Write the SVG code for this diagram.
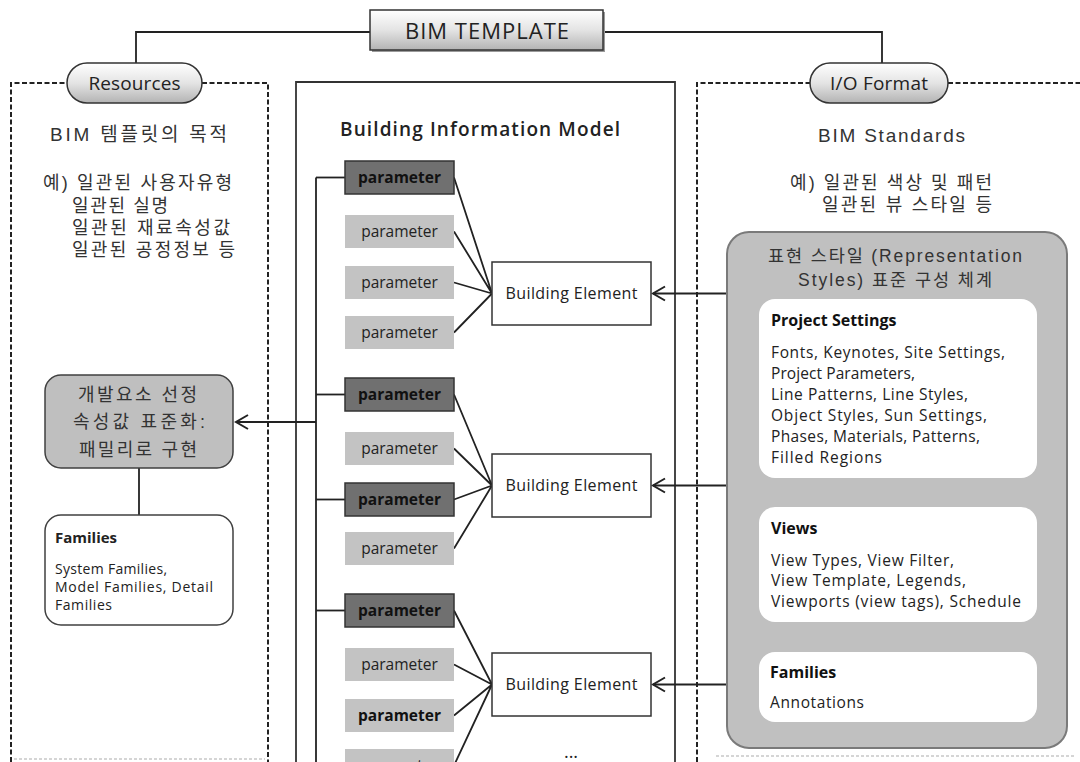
<svg xmlns="http://www.w3.org/2000/svg" width="1080" height="762" viewBox="0 0 1080 762">
<defs>
<linearGradient id="gBtn" x1="0" y1="0" x2="0" y2="1">
<stop offset="0" stop-color="#ffffff"/>
<stop offset="0.5" stop-color="#e4e4e4"/>
<stop offset="1" stop-color="#b3b3b3"/>
</linearGradient>
<marker id="arr" markerUnits="userSpaceOnUse" markerWidth="16" markerHeight="18" refX="13" refY="8" orient="auto" overflow="visible">
<path d="M1,1 L13,8 L1,15" fill="none" stroke="#222" stroke-width="2"/>
</marker>
<style>
.kr{font-family:"Liberation Sans","Noto Sans CJK KR",sans-serif;fill:#333}
.ui{font-family:"Open Sans","Noto Sans","Noto Sans CJK KR",sans-serif;fill:#222}
.ln{fill:none;stroke:#222;stroke-width:1.8}
.dash{fill:none;stroke:#222;stroke-width:2;stroke-dasharray:5 2.5}
.faint{fill:none;stroke:#c8c8c8;stroke-width:1.5;stroke-dasharray:3 2}
.pd{fill:#707070;stroke:#333;stroke-width:1.5}
.pl{fill:#c3c3c3}
.pt{font-family:"Open Sans","Noto Sans",sans-serif;font-size:15.5px;fill:#222;text-anchor:middle}
.pb{font-weight:700;fill:#111}
.be{fill:#fff;stroke:#333;stroke-width:1.5}
.bet{font-family:"Open Sans","Noto Sans",sans-serif;font-size:16px;fill:#222;text-anchor:middle}
.wb{fill:#fff}
.h{font-weight:700;font-size:16px;fill:#111}
.b{font-size:15.5px;fill:#222}
</style>
</defs>
<rect width="1080" height="762" fill="#fff"/>

<g id="frames">
<path class="dash" d="M11,762 V83 H268 V762"/>
<path class="dash" d="M697,762 V83 H1080"/>
<path d="M296,762 V82 H675 V762" fill="none" stroke="#333" stroke-width="1.8"/>
<path class="faint" d="M14,759 H265"/>
<path class="faint" d="M716,756 H1075"/>
</g>

<g id="connectors">
<path class="ln" d="M370,32 H136 V63"/>
<path class="ln" d="M603,32 H882 V63"/>
<path class="ln" d="M316,177.5 V762"/>
<path class="ln" d="M316,177.5 H345"/>
<path class="ln" d="M316,394.5 H345"/>
<path class="ln" d="M316,499.5 H345"/>
<path class="ln" d="M316,610.5 H345"/>
<path class="ln" d="M316,422 H236" marker-end="url(#arr)"/>
<path class="ln" d="M139,468 V515"/>
<path class="ln" d="M454,177.5 L492,293.5 M454,231.5 L492,293.5 M454,282.5 L492,293.5 M454,332.5 L492,293.5"/>
<path class="ln" d="M454,394.5 L492,485.5 M454,448.5 L492,485.5 M454,499.5 L492,485.5 M454,548.5 L492,485.5"/>
<path class="ln" d="M454,610.5 L492,684.5 M454,664.5 L492,684.5 M454,715.5 L492,684.5 M454,765.5 L492,684.5"/>
<path class="ln" d="M727,293.5 H653" marker-end="url(#arr)"/>
<path class="ln" d="M727,485.5 H653" marker-end="url(#arr)"/>
<path class="ln" d="M727,684.5 H653" marker-end="url(#arr)"/>
</g>

<g id="bim-template">
<rect x="372" y="12" width="233" height="40" fill="#9a9a9a"/>
<rect x="370" y="10" width="233" height="40" fill="url(#gBtn)" stroke="#333" stroke-width="1.5"/>
<text class="ui" x="487" y="38.5" font-size="22" text-anchor="middle" textLength="164" fill="#222">BIM TEMPLATE</text>
</g>

<g id="resources">
<rect x="67" y="63" width="135" height="40" rx="20" fill="url(#gBtn)" stroke="#333" stroke-width="1.5"/>
<text class="ui" x="134.5" y="89.5" font-size="19" text-anchor="middle" textLength="92">Resources</text>
</g>

<g id="io-format">
<rect x="810" y="63" width="138" height="40" rx="20" fill="url(#gBtn)" stroke="#333" stroke-width="1.5"/>
<text class="ui" x="879" y="89.5" font-size="19" text-anchor="middle" textLength="98">I/O Format</text>
</g>

<g id="resources-text">
<text class="kr" x="50" y="141" font-size="19" textLength="177">BIM 템플릿의 목적</text>
<text class="kr" x="43" y="189" font-size="18" textLength="189">예) 일관된 사용자유형</text>
<text class="kr" x="72" y="212" font-size="18" textLength="96">일관된 실명</text>
<text class="kr" x="72" y="234" font-size="18" textLength="158">일관된 재료속성값</text>
<text class="kr" x="72" y="256" font-size="18" textLength="163">일관된 공정정보 등</text>
</g>

<g id="dev-element">
<rect x="45" y="375" width="188" height="93" rx="16" fill="#bfbfbf" stroke="#404040" stroke-width="1.5"/>
<text class="kr" x="78" y="401" font-size="18" textLength="119" fill="#555">개발요소 선정</text>
<text class="kr" x="73" y="428" font-size="18" textLength="132" fill="#555">속성값 표준화:</text>
<text class="kr" x="79" y="456" font-size="18" textLength="118" fill="#555">패밀리로 구현</text>
</g>

<g id="families-left">
<rect x="45" y="515" width="188" height="110" rx="16" fill="#fff" stroke="#404040" stroke-width="1.5"/>
<text class="ui" x="55" y="543" font-size="15" font-weight="700" fill="#111">Families</text>
<text class="ui" x="55" y="574" font-size="14" textLength="112" fill="#333">System Families,</text>
<text class="ui" x="55" y="592" font-size="14" textLength="158" fill="#333">Model Families, Detail</text>
<text class="ui" x="55" y="610" font-size="14" textLength="57" fill="#333">Families</text>
</g>

<g id="bim-model-title">
<text class="ui" x="340" y="136" font-size="19" font-weight="600" textLength="280" fill="#1a1a1a">Building Information Model</text>
</g>

<g id="group1">
<rect class="pd" x="345" y="161" width="109" height="33"/>
<text class="pt pb" x="399.5" y="183">parameter</text>
<rect class="pl" x="345" y="215" width="109" height="33"/>
<text class="pt" x="399.5" y="237">parameter</text>
<rect class="pl" x="345" y="266" width="109" height="33"/>
<text class="pt" x="399.5" y="288">parameter</text>
<rect class="pl" x="345" y="316" width="109" height="33"/>
<text class="pt" x="399.5" y="338">parameter</text>
<rect class="be" x="492" y="262" width="159" height="63"/>
<text class="bet" x="571.5" y="299" textLength="132">Building Element</text>
</g>

<g id="group2">
<rect class="pd" x="345" y="378" width="109" height="33"/>
<text class="pt pb" x="399.5" y="400">parameter</text>
<rect class="pl" x="345" y="432" width="109" height="33"/>
<text class="pt" x="399.5" y="454">parameter</text>
<rect class="pd" x="345" y="483" width="109" height="33"/>
<text class="pt pb" x="399.5" y="505">parameter</text>
<rect class="pl" x="345" y="532" width="109" height="33"/>
<text class="pt" x="399.5" y="554">parameter</text>
<rect class="be" x="492" y="454" width="159" height="63"/>
<text class="bet" x="571.5" y="491" textLength="132">Building Element</text>
</g>

<g id="group3">
<rect class="pd" x="345" y="594" width="109" height="33"/>
<text class="pt pb" x="399.5" y="616">parameter</text>
<rect class="pl" x="345" y="648" width="109" height="33"/>
<text class="pt" x="399.5" y="670">parameter</text>
<rect class="pl" x="345" y="699" width="109" height="33"/>
<text class="pt pb" x="399.5" y="721">parameter</text>
<rect class="pl" x="345" y="749" width="109" height="33"/>
<text class="pt" x="399.5" y="771">parameter</text>
<rect class="be" x="492" y="653" width="159" height="63"/>
<text class="bet" x="571.5" y="690" textLength="132">Building Element</text>
<text class="ui" x="571" y="758" font-size="18" text-anchor="middle" fill="#222">...</text>
</g>

<g id="io-text">
<text class="kr" x="818" y="142" font-size="19" textLength="147">BIM Standards</text>
<text class="kr" x="790" y="189" font-size="18" textLength="202">예) 일관된 색상 및 패턴</text>
<text class="kr" x="822" y="211" font-size="18" textLength="170">일관된 뷰 스타일 등</text>
</g>

<g id="representation-styles">
<rect x="727" y="232" width="340" height="516" rx="22" fill="#c0c0c0" stroke="#7a7a7a" stroke-width="2"/>
<text class="kr" x="768" y="262" font-size="17.5" textLength="254" fill="#555">표현 스타일 (Representation</text>
<text class="kr" x="798" y="286" font-size="17.5" textLength="194" fill="#555">Styles) 표준 구성 체계</text>
</g>

<g id="project-settings">
<rect class="wb" x="759" y="299" width="278" height="179" rx="16"/>
<text class="ui h" x="771" y="326">Project Settings</text>
<text class="ui b" x="771" y="358" textLength="234">Fonts, Keynotes, Site Settings,</text>
<text class="ui b" x="771" y="379" textLength="144">Project Parameters,</text>
<text class="ui b" x="771" y="400" textLength="197">Line Patterns, Line Styles,</text>
<text class="ui b" x="771" y="421" textLength="216">Object Styles, Sun Settings,</text>
<text class="ui b" x="771" y="442" textLength="209">Phases, Materials, Patterns,</text>
<text class="ui b" x="771" y="463" textLength="111">Filled Regions</text>
</g>

<g id="views">
<rect class="wb" x="759" y="507" width="278" height="115" rx="16"/>
<text class="ui h" x="771" y="534">Views</text>
<text class="ui b" x="771" y="566" textLength="183">View Types, View Filter,</text>
<text class="ui b" x="771" y="586" textLength="195">View Template, Legends,</text>
<text class="ui b" x="771" y="607" textLength="250">Viewports (view tags), Schedule</text>
</g>

<g id="families-right">
<rect class="wb" x="759" y="652" width="278" height="70" rx="16"/>
<text class="ui h" x="770" y="678">Families</text>
<text class="ui b" x="770" y="708" textLength="94">Annotations</text>
</g>
</svg>
